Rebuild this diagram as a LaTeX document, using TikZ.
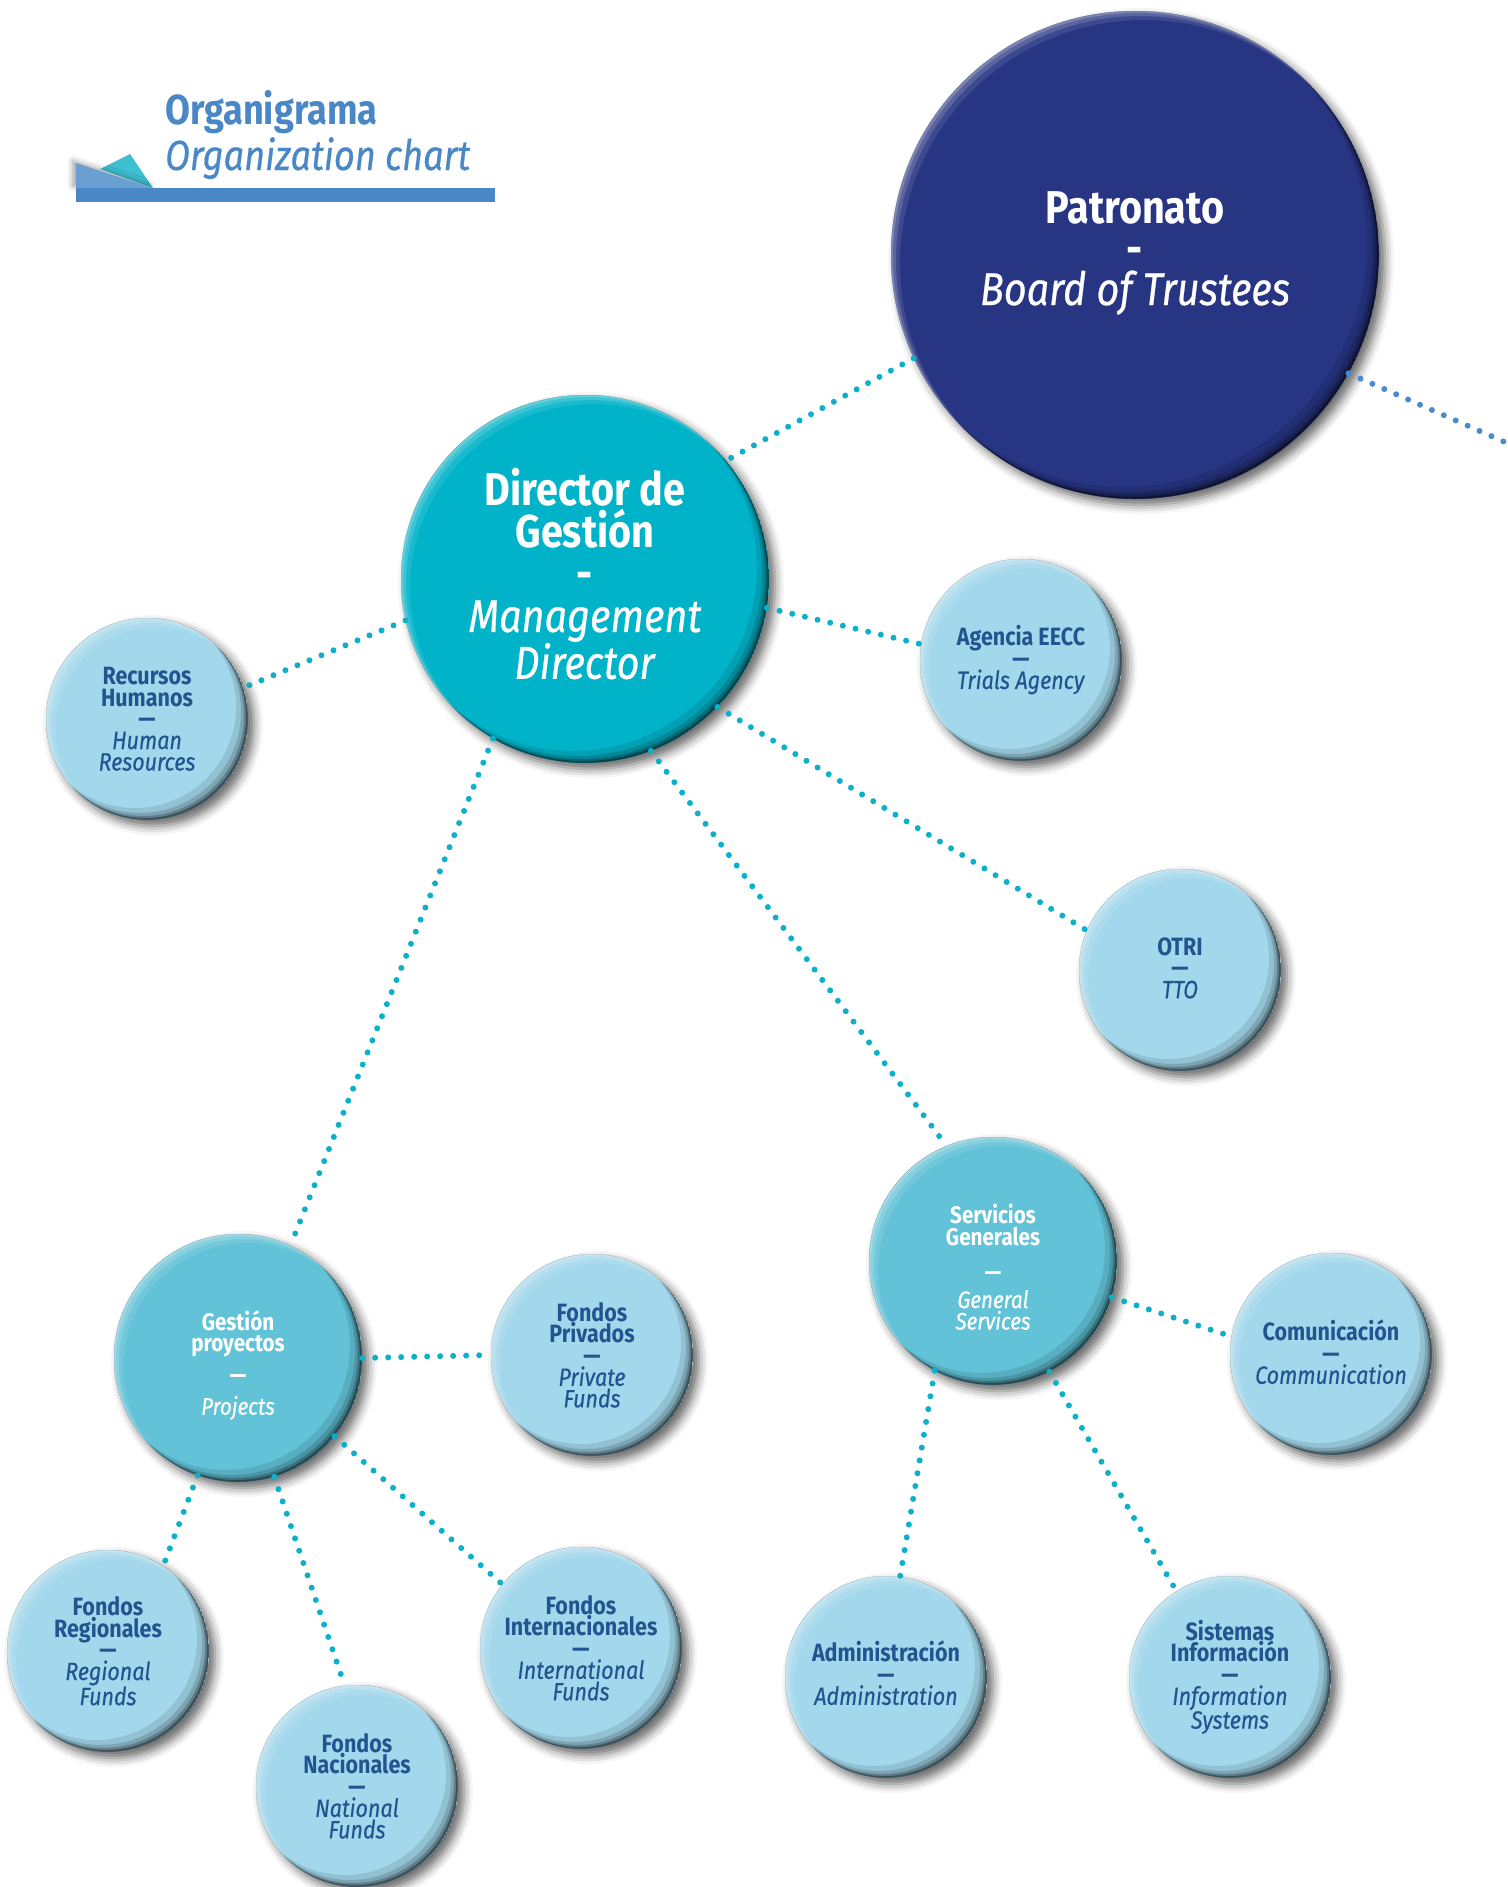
\documentclass[tikz,border=0pt]{standalone}
\usepackage{fontspec}
\setmainfont{Fira Sans}[FakeStretch=0.86, UprightFeatures={FakeBold=0.5}, ItalicFeatures={FakeBold=0.5}]
\usetikzlibrary{shadows.blur}
\definecolor{navy}{HTML}{283583}
\definecolor{dirteal}{HTML}{00B3C9}
\definecolor{midteal}{HTML}{62C2D7}
\definecolor{lightball}{HTML}{A3D8EC}
\definecolor{dotteal}{HTML}{0CB0C8}
\definecolor{dotblue}{HTML}{4A8BCD}
\definecolor{titleblue}{HTML}{4A87C6}
\definecolor{lbltext}{HTML}{22558F}
\definecolor{tribl}{HTML}{6A9FD2}
\definecolor{trite}{HTML}{3EC0D0}
\tikzset{
  dots/.style={line width=6pt, dash pattern=on 0pt off 13pt, line cap=round, dotteal},
  dotsblue/.style={dots, dotblue},
  smalltext/.style={font=\fontsize{25}{21.5}\selectfont, text=lbltext},
  midtext/.style={font=\fontsize{24}{21.5}\selectfont, text=white},
  bigtext/.style={font=\fontsize{46}{41}\selectfont, text=white},
  dirtext/.style={font=\fontsize{46}{42}\selectfont, text=white},
}
\newcommand\rimlayer[6]{% x y r dx color opacity
  \fill[#5, opacity=#6, even odd rule] (#1,#2) circle (#3) (#1-#4,#2-#4) circle (#3);}
\newcommand\orgball[8]{% name, x, y, r, fill, text style, text dy, text
  \fill[#5, blur shadow={shadow xshift=6pt, shadow yshift=-6pt, shadow blur radius=9pt, shadow opacity=60}] (#2,#3) circle (#4);
  \begin{scope}
    \clip (#2,#3) circle (#4);
    \rimlayer{#2}{#3}{#4}{12}{black}{.10}
    \rimlayer{#2}{#3}{#4}{7}{black}{.15}
    \rimlayer{#2}{#3}{#4}{4}{black}{.22}
    \rimlayer{#2}{#3}{#4}{2}{black}{.35}
    \rimlayer{#2}{#3}{#4}{-2}{white}{.20}
    \rimlayer{#2}{#3}{#4}{-5}{white}{.15}
    \rimlayer{#2}{#3}{#4}{-9}{white}{.10}
  \end{scope}
  \node[circle, minimum size=2*#4pt, inner sep=0pt] (#1) at (#2,#3) {};
  \node[inner sep=0pt, align=center, #6] (#1-txt) at (#2,#3+#7) {#8};
}
\begin{document}
\begin{tikzpicture}[x=1pt, y=-1pt]
\useasboundingbox (0,0) rectangle (1507,1887);
% title
\fill[trite] (100,169) -- (130,154) -- (153,188) -- cycle;
\fill[tribl, blur shadow={shadow xshift=-3pt, shadow yshift=2pt, shadow blur radius=6pt, shadow opacity=40}] (76,163) -- (153,188) -- (76,188) -- cycle;
\fill[titleblue] (76,188) rectangle (495,202);
\node[anchor=base west, inner sep=0pt, text=titleblue, font=\fontsize{42}{44}\selectfont\bfseries] (t1) at (165,124) {Organigrama};
\node[anchor=base west, inner sep=0pt, text=titleblue, font=\fontsize{42}{44}\selectfont\itshape] (t2) at (165,170) {Organization chart};

% balls
\orgball{pat}{1135}{255}{244}{navy}{bigtext}{-2}{\textbf{Patronato}\\\textbf{-}\\\textit{Board of Trustees}}
\orgball{dir}{585}{579}{184}{dirteal}{dirtext}{-5}{\textbf{Director de}\\\textbf{Gestión}\\\textbf{-}\\\textit{Management}\\\textit{Director}}
\orgball{rec}{147}{719}{101}{lightball}{smalltext}{0}{\textbf{Recursos}\\\textbf{Humanos}\\\textbf{—}\\\textit{Human}\\\textit{Resources}}
\orgball{age}{1021}{660}{101}{lightball}{smalltext}{0}{\textbf{Agencia EECC}\\\textbf{—}\\\textit{Trials Agency}}
\orgball{otri}{1180}{970}{101}{lightball}{smalltext}{-2}{\textbf{OTRI}\\\textbf{—}\\\textit{TTO}}
\orgball{serv}{993}{1261}{124}{midteal}{midtext}{6}{\textbf{Servicios}\\\textbf{Generales}\\[14pt]\textbf{—}\\[6pt]\textit{General}\\\textit{Services}}
\orgball{gest}{238}{1358}{124}{midteal}{midtext}{7}{\textbf{Gestión}\\\textbf{proyectos}\\[10pt]\textbf{—}\\[10pt]\textit{Projects}}
\orgball{priv}{592}{1355}{101}{lightball}{smalltext}{0}{\textbf{Fondos}\\\textbf{Privados}\\\textbf{—}\\\textit{Private}\\\textit{Funds}}
\orgball{com}{1331}{1354}{101}{lightball}{smalltext}{-2}{\textbf{Comunicación}\\\textbf{—}\\\textit{Communication}}
\orgball{reg}{108}{1651}{101}{lightball}{smalltext}{0}{\textbf{Fondos}\\\textbf{Regionales}\\\textbf{—}\\\textit{Regional}\\\textit{Funds}}
\orgball{nac}{357}{1786}{101}{lightball}{smalltext}{0}{\textbf{Fondos}\\\textbf{Nacionales}\\\textbf{—}\\\textit{National}\\\textit{Funds}}
\orgball{int}{581}{1648}{101}{lightball}{smalltext}{0}{\textbf{Fondos}\\\textbf{Internacionales}\\\textbf{—}\\\textit{International}\\\textit{Funds}}
\orgball{adm}{886}{1677}{101}{lightball}{smalltext}{-4}{\textbf{Administración}\\\textbf{—}\\\textit{Administration}}
\orgball{sis}{1230}{1677}{101}{lightball}{smalltext}{0}{\textbf{Sistemas}\\\textbf{Información}\\\textbf{—}\\\textit{Information}\\\textit{Systems}}

% connectors
\coordinate (offright) at (1507,443);
\draw[dots] (pat.205) -- (dir.40);
\draw[dotsblue] (pat.-29) -- (offright);
\draw[dots] (dir.193) -- (rec.18);
\draw[dots] (dir.-9) -- (age.171);
\draw[dots] (dir.-44) -- (otri.157);
\draw[dots] (dir.-69) -- (serv.112);
\draw[dots] (dir.240) -- (gest.65);
\draw[dots] (gest.0) -- (priv.180);
\draw[dots] (gest.251) -- (reg.57);
\draw[dots] (gest.287) -- (nac.97);
\draw[dots] (gest.-39) -- (int.141);
\draw[dots] (serv.-17) -- (com.170);
\draw[dots] (serv.242) -- (adm.82);
\draw[dots] (serv.-63) -- (sis.122);
\end{tikzpicture}
\end{document}
